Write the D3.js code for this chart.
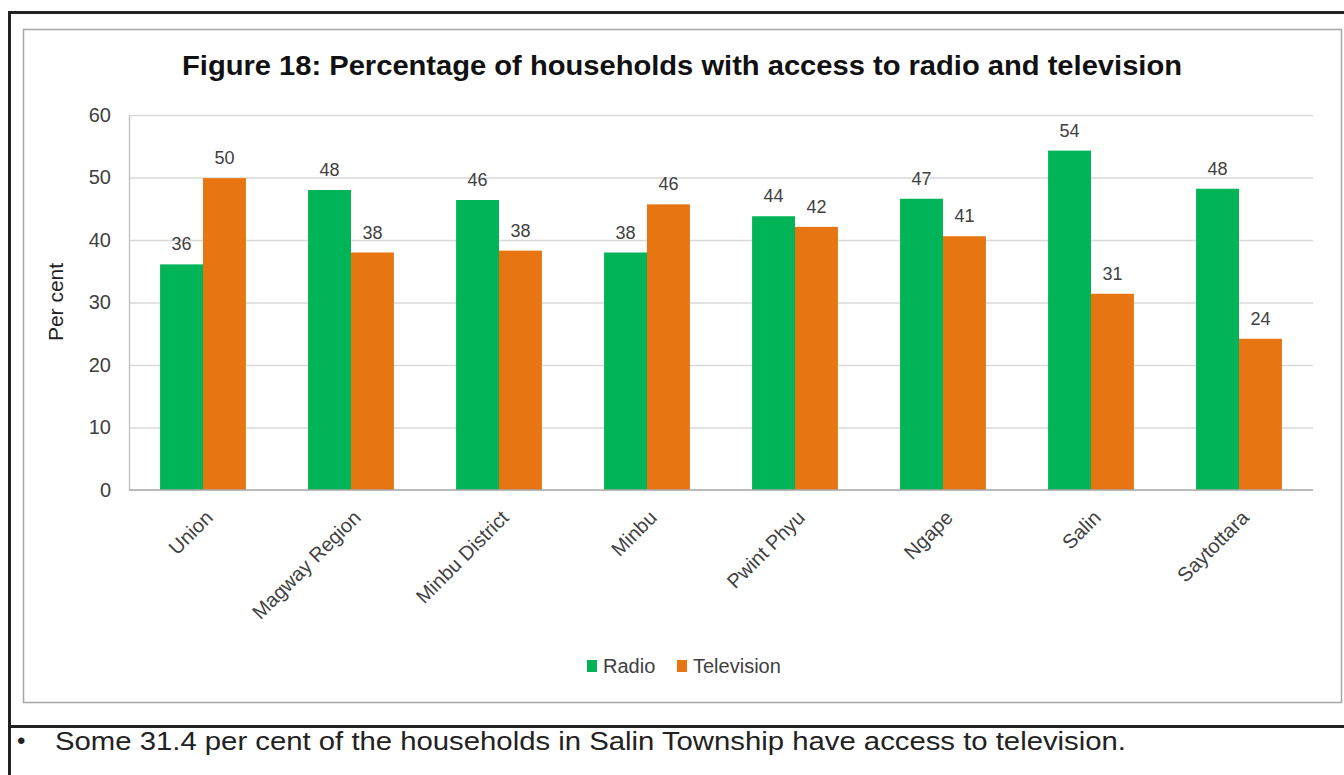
<!DOCTYPE html>
<html>
<head>
<meta charset="utf-8">
<script src="https://cdn.jsdelivr.net/npm/d3@7.9.0/dist/d3.min.js"></script>
<style>
  html, body { margin: 0; padding: 0; background: #fff; }
  svg { display: block; font-family: "Liberation Sans", Arial, sans-serif; }
</style>
</head>
<body>
<div id="chart"></div>
<script>
/* =========================
   DATA
========================= */
const categories = ['Union', 'Magway Region', 'Minbu District', 'Minbu', 'Pwint Phyu', 'Ngape', 'Salin', 'Saytottara'];
const seriesNames = ['Radio', 'Television'];
const radio = [36.1, 48.0, 46.4, 38.0, 43.8, 46.6, 54.3, 48.2];
const television = [49.9, 38.0, 38.3, 45.7, 42.1, 40.6, 31.4, 24.2];
const yTicks = [0, 10, 20, 30, 40, 50, 60];
const seriesColors = ['#00b457', '#e77511'];

const titleText = 'Figure 18: Percentage of households with access to radio and television';
const noteText = 'Some 31.4 per cent of the households in Salin Township have access to television.';

/* =========================
   LAYOUT
========================= */
const width = 1344;
const height = 775;
const plot = { left: 129, right: 1313, top: 115, bottom: 490 };

const rows = categories.map((c, i) => ({ cat: c, values: [radio[i], television[i]] }));

const svg = d3.select('#chart')
  .append('svg')
  .attr('width', width)
  .attr('height', height);

/* page frame */
svg.append('path')
  .attr('d', `M9.5,775 V12.5 H1344`)
  .attr('fill', 'none')
  .attr('stroke', '#222')
  .attr('stroke-width', 3);

svg.append('line')
  .attr('x1', 9).attr('x2', 1344)
  .attr('y1', 726.5).attr('y2', 726.5)
  .attr('stroke', '#222')
  .attr('stroke-width', 3);

/* chart box */
svg.append('rect')
  .attr('x', 23.5).attr('y', 29.5)
  .attr('width', 1318).attr('height', 673)
  .attr('fill', '#fff')
  .attr('stroke', '#a6a6a6')
  .attr('stroke-width', 1.5);

/* title */
svg.append('text')
  .attr('x', 682)
  .attr('y', 75)
  .attr('text-anchor', 'middle')
  .attr('font-size', 28)
  .attr('font-weight', 'bold')
  .attr('fill', '#111')
  .attr('textLength', 1000)
  .attr('lengthAdjust', 'spacingAndGlyphs')
  .text(titleText);

/* =========================
   SCALES
========================= */
const x0 = d3.scaleBand()
  .domain(categories)
  .range([plot.left, plot.right])
  .paddingInner(0.42)
  .paddingOuter(0.21);

const x1 = d3.scaleBand()
  .domain(seriesNames)
  .range([0, x0.bandwidth()]);

const y = d3.scaleLinear()
  .domain([0, 60])
  .range([plot.bottom, plot.top]);

/* gridlines */
const grid = svg.append('g')
  .attr('transform', `translate(${plot.left},0)`)
  .call(d3.axisLeft(y).tickValues(yTicks.slice(1)).tickSize(-(plot.right - plot.left)).tickFormat(''));
grid.select('.domain').remove();
grid.selectAll('line').attr('stroke', '#d9d9d9').attr('stroke-width', 1.3);

/* y axis */
const yAxis = svg.append('g')
  .attr('transform', `translate(${plot.left},0)`)
  .call(d3.axisLeft(y).tickValues(yTicks).tickSize(0).tickPadding(18));
yAxis.select('.domain').attr('stroke', '#bfbfbf').attr('stroke-width', 1.3);
yAxis.selectAll('text')
  .attr('font-size', 20)
  .attr('font-family', '"Liberation Sans", Arial, sans-serif')
  .attr('fill', '#404040');

svg.append('text')
  .attr('transform', `translate(63,302) rotate(-90)`)
  .attr('text-anchor', 'middle')
  .attr('font-size', 21)
  .attr('fill', '#222')
  .text('Per cent');

/* =========================
   BARS
========================= */
const groups = svg.append('g')
  .selectAll('g')
  .data(rows)
  .join('g')
  .attr('transform', d => `translate(${x0(d.cat)},0)`);

groups.selectAll('rect')
  .data(d => d.values.map((v, i) => ({ key: seriesNames[i], value: v, color: seriesColors[i] })))
  .join('rect')
  .attr('x', d => x1(d.key))
  .attr('y', d => y(d.value))
  .attr('width', x1.bandwidth())
  .attr('height', d => y(0) - y(d.value))
  .attr('fill', d => d.color);

groups.selectAll('text.lbl')
  .data(d => d.values.map((v, i) => ({ key: seriesNames[i], value: v })))
  .join('text')
  .attr('class', 'lbl')
  .attr('x', d => x1(d.key) + x1.bandwidth() / 2)
  .attr('y', d => y(d.value) - 14)
  .attr('text-anchor', 'middle')
  .attr('font-size', 18)
  .attr('fill', '#404040')
  .text(d => Math.round(d.value));

/* x axis line */
svg.append('line')
  .attr('x1', plot.left).attr('x2', plot.right)
  .attr('y1', plot.bottom).attr('y2', plot.bottom)
  .attr('stroke', '#a6a6a6')
  .attr('stroke-width', 1.5);

/* category labels */
svg.append('g')
  .selectAll('text')
  .data(categories)
  .join('text')
  .attr('transform', d => `translate(${x0(d) + x0.bandwidth() / 2 + 11},519) rotate(-45)`)
  .attr('text-anchor', 'end')
  .attr('font-size', 20)
  .attr('fill', '#404040')
  .text(d => d);

/* =========================
   LEGEND
========================= */
const legendX = [587, 677];
const legend = svg.append('g')
  .selectAll('g')
  .data(seriesNames)
  .join('g')
  .attr('transform', (d, i) => `translate(${legendX[i]},660)`);

legend.append('rect')
  .attr('width', 10)
  .attr('height', 12)
  .attr('fill', (d, i) => seriesColors[i]);

legend.append('text')
  .attr('x', 16)
  .attr('y', 13)
  .attr('font-size', 20)
  .attr('fill', '#404040')
  .text(d => d);

/* =========================
   NOTE BELOW
========================= */
svg.append('text')
  .attr('x', 17)
  .attr('y', 749)
  .attr('font-size', 24)
  .attr('fill', '#222')
  .text('\u2022');

svg.append('text')
  .attr('x', 55)
  .attr('y', 750)
  .attr('font-size', 26)
  .attr('fill', '#222')
  .attr('textLength', 1071)
  .attr('lengthAdjust', 'spacingAndGlyphs')
  .text(noteText);
</script>
</body>
</html>
